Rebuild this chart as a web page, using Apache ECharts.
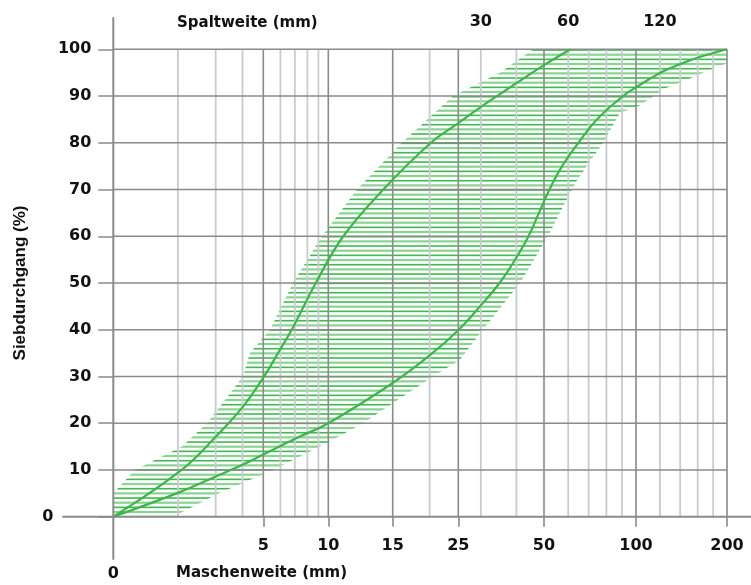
<!DOCTYPE html>
<html>
<head>
<meta charset="utf-8">
<script src="https://cdn.jsdelivr.net/npm/echarts@6/dist/echarts.min.js"></script>
<style>
html,body{margin:0;padding:0;background:#fff;}
#chart{width:751px;height:585px;}
</style>
</head>
<body>
<div id="chart"></div>
<script>
// ---- axis scale definition (grading chart: piecewise logarithmic mm axis) ----
const scaleMm    = [1, 5, 10, 15, 25, 50, 100, 200];
const scaleUnits = [0, 150, 215, 279.4, 345, 430.7, 522.7, 613.7];

// ---- tick labels ----
const xTickMm     = [1, 5, 10, 15, 25, 50, 100, 200];
const xTickLabels = ['0', '5', '10', '15', '25', '50', '100', '200'];
const topTickMm     = [30, 60, 120];
const topTickLabels = ['30', '60', '120'];
const gridMajorMm = [5, 10, 15, 25, 50, 100, 200];
const gridMinorMm = [2, 3, 4, 6, 7, 8, 9, 20, 30, 40, 60, 70, 80, 90, 120, 140, 160, 180];
const yLevels = [10, 20, 30, 40, 50, 60, 70, 80, 90, 100];

// ---- grading curves (mm, % passing) ----
const upperMm  = [1, 2.08, 3.03, 4.03, 5.04, 5.97, 6.77, 8.75, 10.99, 14.14, 20.2, 25, 29.6, 34.2, 40.1, 50, 61.1];
const upperPct = [0, 10, 17.3, 23.6, 30, 35.7, 40, 50, 60, 70, 80, 84.2, 87.4, 90, 92.8, 96.6, 100];
const lowerMm  = [1, 2, 3, 4, 5, 7.1, 10, 15, 20, 25.1, 29.8, 34.9, 39.6, 44.1, 48, 52.1, 57.3, 64.8, 74.5, 90.7, 100.8, 123.1, 143.4, 163.7, 200];
const lowerPct = [0, 5.1, 8.6, 11.1, 13.3, 16.8, 20, 28.6, 34.5, 40, 45, 50, 55, 60, 65, 70, 75, 80, 85, 90, 92, 95.3, 97.1, 98.4, 100];

// ---- hatched band outline (mm, %) ----
const bandLeftMm   = [1, 1, 1.26, 2.09, 2.73, 3.32, 4.02, 4.33, 5.37, 6.86, 9.35, 11.98, 16.1, 24.0, 35, 45.8];
const bandLeftPct  = [0, 5, 10, 15, 20, 25, 30, 35, 40, 50, 60, 70, 80, 90, 95, 100];
const bandRightMm  = [1.9, 3.11, 5.54, 10.03, 12.44, 20.5, 25.3, 30.5, 41.2, 51.5, 61.7, 64.1, 78, 88.7, 103, 124.7, 147.5, 175.7, 200, 200];
const bandRightPct = [0, 5, 10, 16, 20, 30, 33.5, 40, 50, 60, 70, 72, 80, 86.4, 88, 91.6, 93.5, 95.6, 97, 100];

function toAxis(mm) {
  if (mm <= scaleMm[0]) return scaleUnits[0];
  for (let i = 0; i < scaleMm.length - 1; i++) {
    if (mm <= scaleMm[i + 1] || i === scaleMm.length - 2) {
      const f = Math.log(mm / scaleMm[i]) / Math.log(scaleMm[i + 1] / scaleMm[i]);
      return scaleUnits[i] + f * (scaleUnits[i + 1] - scaleUnits[i]);
    }
  }
}
const X_MAX = scaleUnits[scaleUnits.length - 1];

function labelFor(v, mmArr, labels) {
  for (let i = 0; i < mmArr.length; i++) {
    if (Math.abs(toAxis(mmArr[i]) - v) < 0.05) return labels[i];
  }
  return '';
}

// hatch pattern (horizontal lines every 1 %, alternating light / dark)
const pat = document.createElement('canvas');
pat.width = 8; pat.height = 28;
(function () {
  const c = pat.getContext('2d');
  const ys = [3.37, 8.03, 12.7, 17.37, 22.03, 26.7];
  ys.forEach((y, j) => {
    if (j % 2) { c.fillStyle = '#8ad394'; c.fillRect(0, y - 1.1, 8, 2.2); }
    else { c.fillStyle = '#3fb84f'; c.fillRect(0, y - 0.8, 8, 1.6); }
  });
})();

const FONT = '"DejaVu Sans", sans-serif';
const chart = echarts.init(document.getElementById('chart'), null, {renderer: 'canvas'});

chart.setOption({
  animation: false,
  backgroundColor: '#ffffff',
  grid: {left: 113.3, right: 24, top: 49.3, bottom: 68.3, containLabel: false},
  xAxis: [{
    type: 'value', min: 0, max: X_MAX, position: 'bottom',
    axisLine: {show: false},
    splitLine: {show: false},
    axisTick: {show: true, length: 10, customValues: xTickMm.slice(1).map(toAxis),
               lineStyle: {color: '#8a8a8a', width: 1.6}},
    axisLabel: {
      customValues: xTickMm.map(toAxis), margin: 21,
      color: '#111', fontFamily: FONT, fontWeight: 'bold', fontSize: 16,
      formatter: v => { const t = labelFor(v, xTickMm, xTickLabels); return t === '0' ? '{low|0}' : t; },
      rich: {low: {padding: [28, 0, 0, 0], color: '#111', fontFamily: FONT, fontWeight: 'bold', fontSize: 16}}
    }
  }, {
    type: 'value', min: 0, max: X_MAX, position: 'top',
    axisLine: {show: false}, splitLine: {show: false}, axisTick: {show: false},
    axisLabel: {
      customValues: topTickMm.map(toAxis), margin: 19,
      color: '#111', fontFamily: FONT, fontWeight: 'bold', fontSize: 16,
      formatter: v => labelFor(v, topTickMm, topTickLabels)
    }
  }],
  yAxis: {
    type: 'value', min: 0, max: 100, interval: 10,
    name: 'Siebdurchgang (%)', nameLocation: 'middle', nameRotate: 90, nameGap: 84,
    nameTextStyle: {color: '#111', fontFamily: '"Liberation Sans", Arial, sans-serif', fontWeight: 'bold', fontSize: 17},
    axisLine: {show: false},
    splitLine: {show: false},
    axisTick: {show: true, length: 15, lineStyle: {color: '#8a8a8a', width: 1.5}},
    axisLabel: {
      margin: 22, color: '#111', fontFamily: FONT, fontWeight: 'bold', fontSize: 16,
      formatter: v => v === 0 ? '{z|0}' : String(v),
      rich: {z: {padding: [0, 38, 0, 0], color: '#111', fontFamily: FONT, fontWeight: 'bold', fontSize: 16}}
    }
  },
  graphic: [
    {type: 'text', x: 177, y: 23, style: {text: 'Spaltweite (mm)', font: 'bold 15px "DejaVu Sans"', fill: '#111', verticalAlign: 'middle'}},
    {type: 'text', x: 176, y: 573, style: {text: 'Maschenweite (mm)', font: 'bold 15px "DejaVu Sans"', fill: '#111', verticalAlign: 'middle'}}
  ],
  series: [
    {
      name: 'band', type: 'custom', z: 1, silent: true,
      data: [[0, 0]],
      renderItem: (params, api) => {
        const pts = [];
        bandLeftMm.forEach((m, i) => pts.push(api.coord([toAxis(m), bandLeftPct[i]])));
        for (let i = bandRightMm.length - 1; i >= 0; i--) pts.push(api.coord([toAxis(bandRightMm[i]), bandRightPct[i]]));
        return {type: 'polygon', shape: {points: pts}, style: {fill: {image: pat, repeat: 'repeat'}, stroke: null}};
      }
    },
    {
      name: 'vgrid', type: 'custom', z: 2, silent: true,
      data: gridMinorMm.map(m => [toAxis(m), 0]).concat(gridMajorMm.map(m => [toAxis(m), 1])),
      renderItem: (params, api) => {
        const a = api.coord([api.value(0), 0]);
        const b = api.coord([api.value(0), 100]);
        const major = api.value(1) === 1;
        return {type: 'line', shape: {x1: a[0], y1: a[1], x2: b[0], y2: b[1]},
                style: {stroke: major ? '#8a8a8a' : '#c9cbcf', lineWidth: major ? 1.6 : 1.8}};
      }
    },
    {
      name: 'hgrid', type: 'custom', z: 2, silent: true,
      data: yLevels.map(l => [0, l]),
      renderItem: (params, api) => {
        const a = api.coord([0, api.value(1)]);
        const b = api.coord([X_MAX, api.value(1)]);
        return {type: 'line', shape: {x1: a[0], y1: a[1], x2: b[0], y2: b[1]},
                style: {stroke: '#8a8a8a', lineWidth: 1.5}};
      }
    },
    {
      name: 'upper', type: 'line', z: 3, symbol: 'none', smooth: 0.4, silent: true,
      lineStyle: {color: '#3db54b', width: 2.2},
      data: upperMm.map((m, i) => [toAxis(m), upperPct[i]])
    },
    {
      name: 'lower', type: 'line', z: 3, symbol: 'none', smooth: 0.4, silent: true,
      lineStyle: {color: '#3db54b', width: 2.2},
      data: lowerMm.map((m, i) => [toAxis(m), lowerPct[i]])
    },
    {
      name: 'axes', type: 'custom', z: 4, silent: true,
      data: [[0, 0]],
      renderItem: (params, api) => {
        const o = api.coord([0, 0]);
        const t = api.coord([0, 100]);
        return {type: 'group', children: [
          {type: 'line', shape: {x1: o[0] - 51, y1: o[1], x2: api.getWidth(), y2: o[1]}, style: {stroke: '#8a8a8a', lineWidth: 2}},
          {type: 'line', shape: {x1: o[0], y1: t[1] - 32, x2: o[0], y2: o[1] + 43}, style: {stroke: '#8a8a8a', lineWidth: 2}}
        ]};
      }
    }
  ]
});
</script>
</body>
</html>
